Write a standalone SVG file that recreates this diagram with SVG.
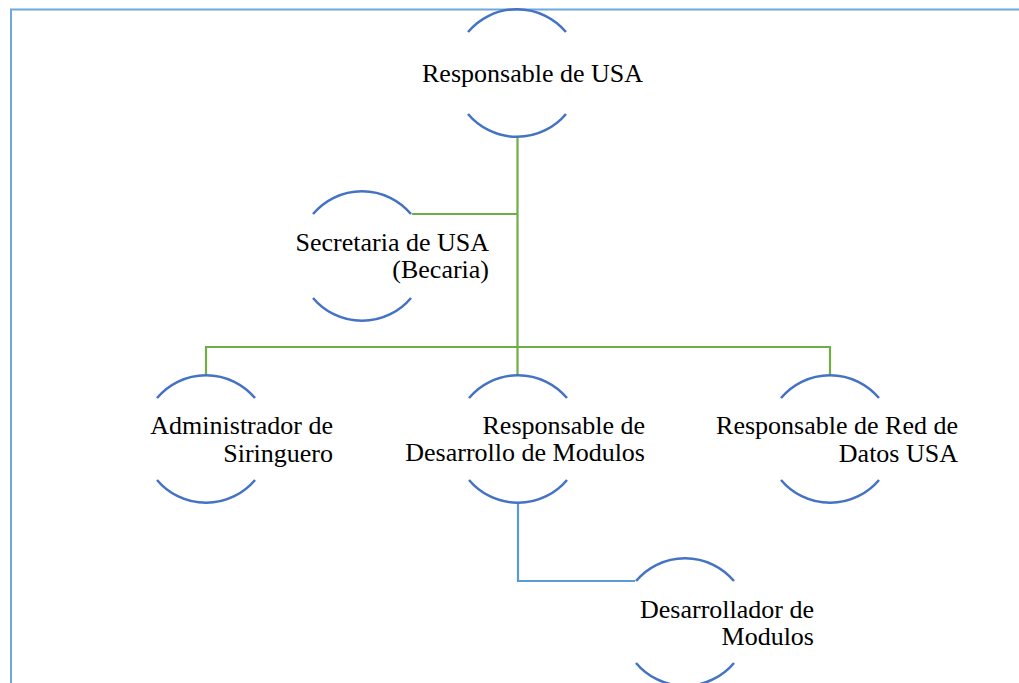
<svg xmlns="http://www.w3.org/2000/svg" width="1019" height="683" viewBox="0 0 1019 683">
<style>
.arc{fill:none;stroke:#4472c4;stroke-width:2.5}
.g{fill:none;stroke:#70ad47;stroke-width:2.2}
.b{fill:none;stroke:#5b9bd5;stroke-width:2.2}
text{font-family:"Liberation Serif","Times New Roman",serif;font-size:26px;fill:#000;text-anchor:end}
</style>
<rect x="11" y="9.5" width="1030" height="700" fill="none" stroke="#6fa8dc" stroke-width="2"/>
<g id="connectors">
<path class="g" d="M517.5,137 V347 M412,214 H517.5 M206,375 V347 H830 V375 M517.5,347 V375"/>
<path class="b" d="M518,503 V581 H635"/>
</g>
<g id="n1">
<path class="arc" d="M468,32 A64,64 0 0 1 566,32 M468,114 A64,64 0 0 0 566,114"/>
<text x="643" y="82">Responsable de USA</text>
</g>
<g id="n2">
<path class="arc" d="M313,214 A64,64 0 0 1 411,214 M313,298 A64,64 0 0 0 411,298"/>
<text x="489" y="251">Secretaria de USA</text>
<text x="489" y="278">(Becaria)</text>
</g>
<g id="n3">
<path class="arc" d="M157,398 A64,64 0 0 1 255,398 M157,480 A64,64 0 0 0 255,480"/>
<text x="333" y="434">Administrador de</text>
<text x="333" y="461.5">Siringuero</text>
</g>
<g id="n4">
<path class="arc" d="M469,398 A64,64 0 0 1 567,398 M469,480 A64,64 0 0 0 567,480"/>
<text x="645" y="434">Responsable de</text>
<text x="645" y="461">Desarrollo de Modulos</text>
</g>
<g id="n5">
<path class="arc" d="M781,398 A64,64 0 0 1 879,398 M781,480 A64,64 0 0 0 879,480"/>
<text x="958" y="434">Responsable de Red de</text>
<text x="958" y="461.5">Datos USA</text>
</g>
<g id="n6">
<path class="arc" d="M636,581 A64,64 0 0 1 734,581 M636,663 A64,64 0 0 0 734,663"/>
<text x="814" y="618">Desarrollador de</text>
<text x="814" y="644.5">Modulos</text>
</g>
</svg>
